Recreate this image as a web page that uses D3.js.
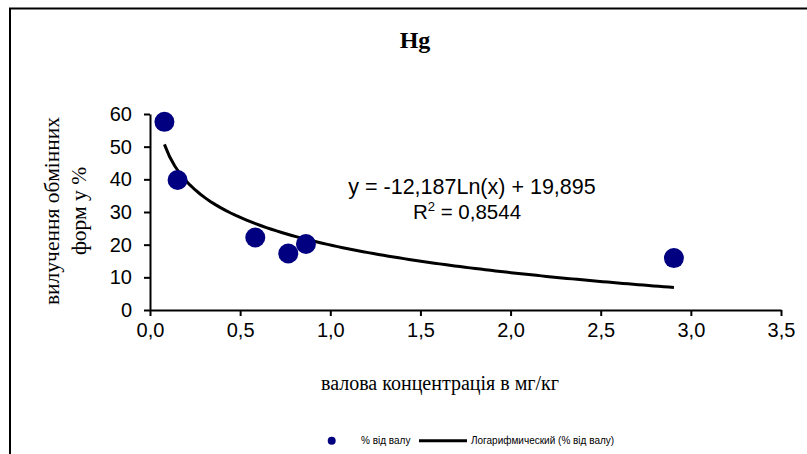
<!DOCTYPE html>
<html><head><meta charset="utf-8">
<script src="https://cdn.jsdelivr.net/npm/d3@7"></script>
<style>body{margin:0;background:#fff;} svg{display:block;}</style>
</head><body>
<svg id="c" width="807" height="454"></svg>
<script>
const title = "Hg";
const xValues = [0.08, 0.153, 0.584, 0.767, 0.865, 2.906];
const yValues = [57.6, 39.8, 22.2, 17.3, 20.2, 15.9];
const trendA = -12.187, trendB = 19.895, r2 = "0,8544";
const xTicks = [0, 0.5, 1.0, 1.5, 2.0, 2.5, 3.0, 3.5];
const yTicks = [0, 10, 20, 30, 40, 50, 60];
const xLabel = "валова концентрація в мг/кг";
const yLabel = ["вилучення обмінних", "форм у %"];
const legendLabels = ["% від валу", "Логарифмический (% від валу)"];

const svg = d3.select("#c");
svg.append("rect").attr("x",10).attr("y",8.5).attr("width",820).attr("height",470)
  .attr("fill","#fff").attr("stroke","#000").attr("stroke-width",2);

const x = d3.scaleLinear().domain([0,3.5]).range([150,781]);
const y = d3.scaleLinear().domain([0,60]).range([310,114]);
const fmt = d => d3.format(".1f")(d).replace(".", ",");

svg.append("text").attr("x",415).attr("y",48).attr("text-anchor","middle")
  .attr("font-family","Liberation Serif").attr("font-weight","bold").attr("font-size",24).text(title);

const gx = svg.append("g").attr("transform","translate(0,310)")
  .call(d3.axisBottom(x).tickValues(xTicks).tickFormat(fmt).tickSize(6).tickSizeOuter(0));
const gy = svg.append("g").attr("transform","translate(150,0)")
  .call(d3.axisLeft(y).tickValues(yTicks).tickFormat(d3.format("d")).tickSize(6).tickSizeOuter(0));
[gx,gy].forEach(g=>{
  g.selectAll("path.domain").attr("stroke","#000").attr("stroke-width",2);
  g.selectAll(".tick line").attr("stroke","#000").attr("stroke-width",2);
  g.selectAll("text").attr("font-family","Liberation Sans").attr("font-size",20).attr("fill","#000");
});
gx.selectAll("text").attr("dy","1.05em").attr("y",6);
gy.selectAll("text").attr("x",-18);

// trendline
const xmin = d3.min(xValues), xmax = d3.max(xValues);
const tPts = d3.range(0,101).map(i => { const xv = xmin + (xmax-xmin)*i/100; return [xv, trendA*Math.log(xv)+trendB]; });
svg.append("path").datum(tPts).attr("fill","none").attr("stroke","#000").attr("stroke-width",3)
  .attr("d", d3.line().x(d=>x(d[0])).y(d=>y(d[1])));

svg.selectAll("circle.pt").data(xValues).join("circle").attr("class","pt")
  .attr("cx",(d)=>x(d)).attr("cy",(d,i)=>y(yValues[i])).attr("r",10).attr("fill","#000080");

// equation
const eq = svg.append("text").attr("font-family","Liberation Sans").attr("text-anchor","middle");
eq.append("tspan").attr("x",472).attr("y",194).attr("font-size",21.5)
  .text(`y = ${String(trendA).replace(".",",")}Ln(x) + ${String(trendB).replace(".",",")}`);
const l2 = eq.append("tspan").attr("x",467).attr("y",219).attr("font-size",20.5);
l2.append("tspan").text("R");
l2.append("tspan").attr("font-size",13).attr("dy",-8).text("2");
l2.append("tspan").attr("dy",8).text(" = " + r2);

// axis titles
svg.append("text").attr("x",440).attr("y",390).attr("text-anchor","middle")
  .attr("font-family","Liberation Serif").attr("font-size",20).text(xLabel);
const yl = svg.append("text").attr("transform","translate(0,211) rotate(-90)").attr("text-anchor","middle")
  .attr("font-family","Liberation Serif").attr("font-size",21.5);
yl.append("tspan").attr("x",0).attr("y",59).text(yLabel[0]);
yl.append("tspan").attr("x",0).attr("y",86).text(yLabel[1]);

// legend
svg.append("circle").attr("cx",331.7).attr("cy",440.7).attr("r",4).attr("fill","#000080");
svg.append("text").attr("x",361).attr("y",444).attr("font-family","Liberation Sans").attr("font-size",10).text(legendLabels[0]);
svg.append("line").attr("x1",419).attr("x2",467).attr("y1",440.7).attr("y2",440.7).attr("stroke","#000").attr("stroke-width",3);
svg.append("text").attr("x",471).attr("y",444).attr("font-family","Liberation Sans").attr("font-size",10).text(legendLabels[1]);
</script>
</body></html>
